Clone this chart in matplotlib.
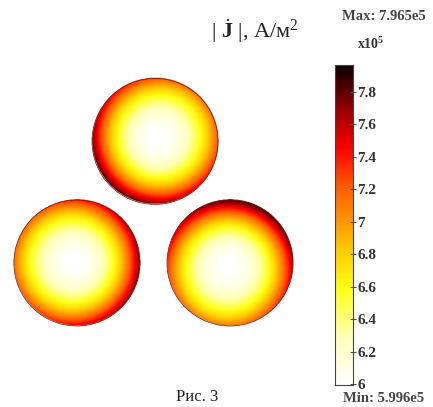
#!/usr/bin/env python

import matplotlib
matplotlib.use('Agg')
import matplotlib.pyplot as plt
import numpy as np
from matplotlib.colors import LinearSegmentedColormap
from matplotlib.patches import Circle

plt.rcParams['font.family'] = ['Liberation Serif', 'DejaVu Serif']
plt.rcParams['mathtext.fontset'] = 'custom'
plt.rcParams['mathtext.rm'] = 'Liberation Serif'
plt.rcParams['mathtext.it'] = 'Liberation Serif:italic'
plt.rcParams['mathtext.bf'] = 'Liberation Serif:bold'

# Conductors (radius = 1), centre positions
COND_X = [0.0, -1.24, 1.19]
COND_Y = [1.93, 0.0, 0.0]
# |J| rise from centre to edge (x1e5 A/m^2) and its one-sided skew
EDGE_RISE = [1.50, 1.45, 1.50]
EDGE_SKEW = [0.35, 0.30, 0.42]
SKEW_ANGLE = [225.0, -10.0, 70.0]

J_MIN = 5.996
J_MAX = 7.965
CB_TICKS = [6.0, 6.2, 6.4, 6.6, 6.8, 7.0, 7.2, 7.4, 7.6, 7.8]
CB_LABELS = ['6', '6.2', '6.4', '6.6', '6.8', '7', '7.2', '7.4', '7.6', '7.8']

CMAP = LinearSegmentedColormap.from_list('jhot', [
    (0.00, (1.0, 1.0, 1.0)),
    (0.15, (1.0, 1.0, 0.72)),
    (0.30, (1.0, 1.0, 0.08)),
    (0.42, (1.0, 0.80, 0.0)),
    (0.52, (1.0, 0.57, 0.0)),
    (0.62, (1.0, 0.36, 0.0)),
    (0.74, (1.0, 0.0, 0.0)),
    (0.86, (0.60, 0.0, 0.0)),
    (1.00, (0.05, 0.0, 0.0)),
])


def main():
    fig = plt.figure(figsize=(4.33, 4.07), dpi=100)

    ax = fig.add_axes([0, 0, 1, 1])
    s = 63.0  # px per unit
    ax.set_xlim(-155 / s, (433 - 155) / s)
    ax.set_ylim(-(407 - 263) / s, 263 / s)
    ax.axis('off')

    xx, yy = np.meshgrid(np.linspace(-2.4, 2.5, 700), np.linspace(-1.1, 3.05, 600))
    field = np.full(xx.shape, np.nan)
    for cx, cy, rise, skew, ang in zip(COND_X, COND_Y, EDGE_RISE, EDGE_SKEW, SKEW_ANGLE):
        dx = xx - cx
        dy = yy - cy
        r = np.hypot(dx, dy)
        th = np.arctan2(dy, dx)
        inside = r <= 1.0
        val = J_MIN + rise * r ** 2.1 + skew * r ** 1.6 * np.cos(th - np.radians(ang))
        field[inside] = val[inside]
    field = np.clip(field, J_MIN, J_MAX)

    ax.imshow(np.ma.masked_invalid(field), origin='lower', cmap=CMAP,
              vmin=J_MIN, vmax=J_MAX, interpolation='bilinear',
              extent=[-2.4, 2.5, -1.1, 3.05])
    for cx, cy in zip(COND_X, COND_Y):
        ax.add_patch(Circle((cx, cy), 1.0, fill=False, ec='#8a1000', lw=0.5))

    cax = fig.add_axes([335 / 433, 22 / 407, 18 / 433, 320 / 407])
    grad = np.linspace(J_MIN, J_MAX, 256).reshape(-1, 1)
    cax.imshow(grad, origin='lower', aspect='auto', cmap=CMAP,
               extent=[0, 1, J_MIN, J_MAX])
    cax.set_xticks([])
    cax.yaxis.tick_right()
    cax.set_yticks(CB_TICKS)
    cax.set_yticklabels(CB_LABELS)
    cax.tick_params(axis='y', direction='inout', length=4, width=0.8,
                    colors='#555555', labelcolor='#333333', labelsize=11, pad=1)
    for lab in cax.get_yticklabels():
        lab.set_fontweight('bold')
    for sp in cax.spines.values():
        sp.set_color('#444444')
        sp.set_linewidth(0.8)

    fig.text(384 / 433, 1 - 17 / 407, 'Max: 7.965e5', ha='center', va='center',
             fontsize=10.5, color='#444444', fontweight='bold')
    fig.text(357 / 433, 1 - 44 / 407, r'x10$^{\mathbf{5}}$', ha='left', va='center',
             fontsize=10, color='#333333', fontweight='bold')
    fig.text(384 / 433, 2 / 407, 'Min: 5.996e5', ha='center', va='bottom',
             fontsize=10.5, color='#444444', fontweight='bold')
    fig.text(255 / 433, 1 - 31 / 407, r'| $\dot{\mathbf{J}}$ |, А/м$^2$',
             ha='center', va='center', fontsize=16, color='#222222')
    fig.text(197 / 433, 2 / 407, 'Рис. 3', ha='center', va='bottom',
             fontsize=12, color='#222222')

    fig.savefig('out.png', dpi=100)


if __name__ == '__main__':
    main()
